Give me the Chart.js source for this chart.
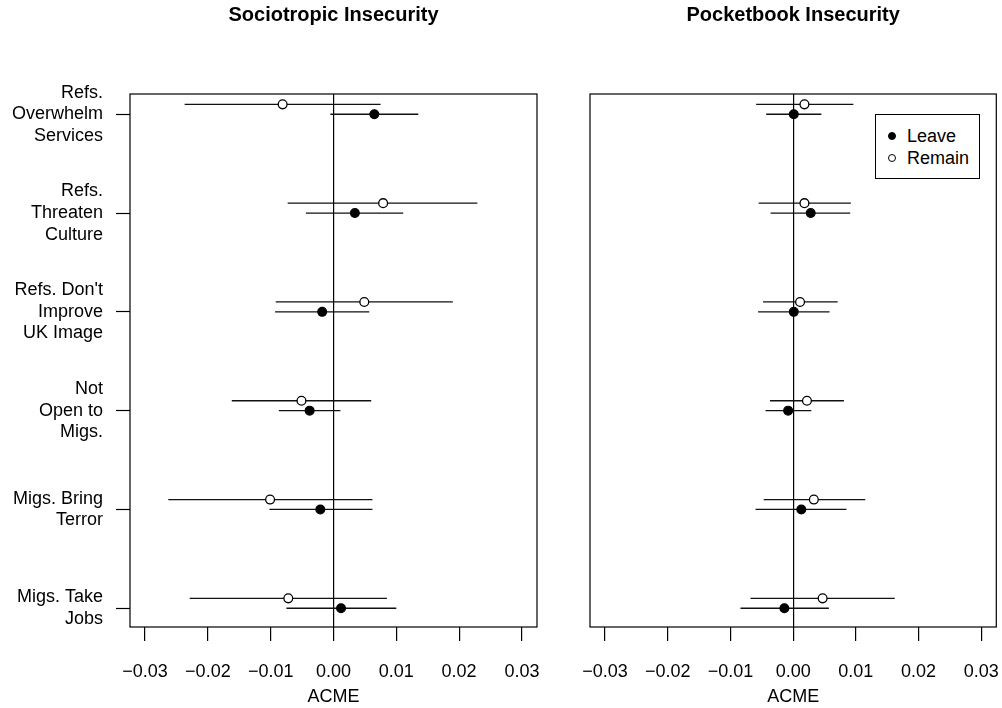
<!DOCTYPE html>
<html>
<head>
<meta charset="utf-8">
<script src="https://cdn.jsdelivr.net/npm/chart.js@4.4.1/dist/chart.umd.min.js"></script>
<style>
  html, body { margin: 0; padding: 0; background: #fff; }
  #wrap { position: relative; width: 1002px; height: 708px; overflow: hidden; font-family: "Liberation Sans", Arial, Helvetica, sans-serif; }
  #p1 { position: absolute; left: 0; top: 0; width: 545px; height: 708px; }
  #p2 { position: absolute; left: 545px; top: 0; width: 457px; height: 708px; }
  #legend { position: absolute; left: 875px; top: 114px; width: 103px; height: 63px; border: 1px solid #000; background: #fff; font-size: 18px; color: #000; }
  .lrow { position: absolute; left: 0; height: 22px; line-height: 22px; white-space: nowrap; }
  .dot { position: absolute; left: 12px; top: 7px; width: 8px; height: 8px; border-radius: 50%; box-sizing: border-box; border: 1.2px solid #000; }
  .ltxt { position: absolute; left: 31px; top: 0; }
</style>
</head>
<body>
<div id="wrap">
  <div id="p1"><canvas id="c1" width="545" height="708"></canvas></div>
  <div id="p2"><canvas id="c2" width="457" height="708"></canvas></div>
  <div id="legend"></div>
</div>
<script>
// ---------- data ----------
const categories = [
  ["Refs.", "Overwhelm", "Services"],
  ["Refs.", "Threaten", "Culture"],
  ["Refs. Don't", "Improve", "UK Image"],
  ["Not", "Open to", "Migs."],
  ["Migs. Bring", "Terror"],
  ["Migs. Take", "Jobs"]
];
const rowPos = [1, 2, 3, 4, 5, 6];
const remainOffset = -0.1;
const xTicks = [-0.03, -0.02, -0.01, 0, 0.01, 0.02, 0.03];
const panelTitles = ["Sociotropic Insecurity", "Pocketbook Insecurity"];
const seriesNames = ["Leave", "Remain"];
const xTitle = "ACME";

// Sociotropic
const socioLeaveEst  = [0.0065, 0.0034, -0.0018, -0.0038, -0.0021, 0.0012];
const socioLeaveLo   = [-0.0005, -0.0044, -0.0093, -0.0087, -0.0102, -0.0075];
const socioLeaveHi   = [0.0135, 0.0111, 0.0057, 0.0011, 0.0062, 0.0100];
const socioRemainEst = [-0.0081, 0.0079, 0.0049, -0.0051, -0.0101, -0.0072];
const socioRemainLo  = [-0.0237, -0.0073, -0.0092, -0.0162, -0.0263, -0.0229];
const socioRemainHi  = [0.0075, 0.0229, 0.0190, 0.0060, 0.0062, 0.0085];

// Pocketbook
const pocketLeaveEst  = [0.0001, 0.0028, 0.0001, -0.0008, 0.0013, -0.0014];
const pocketLeaveLo   = [-0.0043, -0.0036, -0.0056, -0.0044, -0.0060, -0.0084];
const pocketLeaveHi   = [0.0045, 0.0091, 0.0058, 0.0029, 0.0085, 0.0057];
const pocketRemainEst = [0.0018, 0.0018, 0.0011, 0.0022, 0.0033, 0.0047];
const pocketRemainLo  = [-0.0059, -0.0055, -0.0048, -0.0037, -0.0047, -0.0068];
const pocketRemainHi  = [0.0096, 0.0092, 0.0071, 0.0081, 0.0115, 0.0162];

// ---------- setup ----------
const FONT = '"Liberation Sans", Arial, Helvetica, sans-serif';
Chart.defaults.font.family = FONT;
Chart.defaults.color = '#000';

const X_MIN = -0.0324, X_MAX = 0.0324;
const Y_MIN = 0.795, Y_MAX = 6.19;

function fmt(v) {
  if (Math.abs(v) < 1e-12) return "0.00";
  return (v < 0 ? "\u2212" : "") + Math.abs(v).toFixed(2);
}

function ciData(lo, hi, offset) {
  const out = [];
  lo.forEach((l, i) => {
    out.push({ x: l, y: rowPos[i] + offset });
    out.push({ x: hi[i], y: rowPos[i] + offset });
    out.push({ x: null, y: null });
  });
  return out;
}
function ptData(est, offset) {
  return est.map((v, i) => ({ x: v, y: rowPos[i] + offset }));
}

const boxPlugin = {
  id: 'box',
  afterDraw(chart) {
    const a = chart.chartArea, c = chart.ctx;
    c.save();
    c.strokeStyle = '#000';
    c.lineWidth = 1.2;
    c.strokeRect(a.left, a.top, a.right - a.left, a.bottom - a.top);
    c.restore();
  }
};

function makeChart(canvasId, title, lEst, lLo, lHi, rEst, rLo, rHi, showY, pad) {
  return new Chart(document.getElementById(canvasId), {
    type: 'scatter',
    data: {
      datasets: [
        { label: seriesNames[0], data: ptData(lEst, 0), pointRadius: 4.4, pointHoverRadius: 4.4,
          backgroundColor: '#000', borderColor: '#000', borderWidth: 1.2, order: 0 },
        { label: seriesNames[1], data: ptData(rEst, remainOffset), pointRadius: 4.4, pointHoverRadius: 4.4,
          backgroundColor: '#fff', borderColor: '#000', borderWidth: 1.3, order: 0 },
        { label: seriesNames[0] + ' CI', data: ciData(lLo, lHi, 0), showLine: true, pointRadius: 0,
          borderColor: '#111', borderWidth: 1.3, spanGaps: false, order: 1 },
        { label: seriesNames[1] + ' CI', data: ciData(rLo, rHi, remainOffset), showLine: true, pointRadius: 0,
          borderColor: '#111', borderWidth: 1.3, spanGaps: false, order: 1 }
      ]
    },
    options: {
      responsive: false,
      animation: false,
      layout: { padding: pad },
      plugins: {
        legend: { display: false },
        tooltip: { enabled: false },
        title: {
          display: true, text: title, fullSize: false, color: '#000',
          font: { family: FONT, size: 20, weight: 'bold', lineHeight: 1.2 },
          padding: { top: 3, bottom: 67 }
        }
      },
      scales: {
        x: {
          type: 'linear', min: X_MIN, max: X_MAX,
          afterBuildTicks: s => { s.ticks = xTicks.map(v => ({ value: v })); },
          afterFit: s => { s.height = 81; s.paddingLeft = 0; s.paddingRight = 0; },
          ticks: { callback: v => fmt(v), font: { size: 18, lineHeight: 1.2 }, color: '#000', padding: 20, maxRotation: 0, autoSkip: false },
          grid: {
            display: true, drawOnChartArea: true, drawTicks: true,
            color: ctx => (ctx.tick && Math.abs(ctx.tick.value) < 1e-12) ? '#000' : 'rgba(0,0,0,0)',
            lineWidth: 1.2, tickColor: '#000', tickWidth: 1.2, tickLength: 14
          },
          border: { display: false },
          title: { display: true, text: xTitle, font: { size: 18, lineHeight: 1.2 }, color: '#000', padding: { top: 0, bottom: 0 } }
        },
        y: {
          type: 'linear', reverse: true, min: Y_MIN, max: Y_MAX,
          display: showY,
          afterBuildTicks: s => { s.ticks = rowPos.map(v => ({ value: v })); },
          afterFit: s => { s.width = showY ? 130 : 0; s.paddingTop = 0; s.paddingBottom = 0; },
          ticks: { callback: (v) => { const i = rowPos.indexOf(v); return i >= 0 ? categories[i] : ''; },
                   font: { size: 18, lineHeight: 1.2 }, color: '#000', padding: 13, autoSkip: false },
          grid: { display: true, drawOnChartArea: false, drawTicks: true, color: 'rgba(0,0,0,0)',
                  tickColor: '#000', tickWidth: 1.2, tickLength: 14 },
          border: { display: false }
        }
      }
    },
    plugins: [boxPlugin]
  });
}

makeChart('c1', panelTitles[0], socioLeaveEst, socioLeaveLo, socioLeaveHi,
          socioRemainEst, socioRemainLo, socioRemainHi, true, { left: 0, right: 8, top: 0, bottom: 0 });
makeChart('c2', panelTitles[1], pocketLeaveEst, pocketLeaveLo, pocketLeaveHi,
          pocketRemainEst, pocketRemainLo, pocketRemainHi, false, { left: 45, right: 5, top: 0, bottom: 0 });

// legend (HTML, real text)
const legendEl = document.getElementById('legend');
const legendFill = ['#000', '#fff'];
seriesNames.forEach((name, i) => {
  const row = document.createElement('div');
  row.className = 'lrow';
  row.style.top = (10 + i * 21.5) + 'px';
  const dot = document.createElement('span');
  dot.className = 'dot';
  dot.style.background = legendFill[i];
  const t = document.createElement('span');
  t.className = 'ltxt';
  t.textContent = name;
  row.appendChild(dot); row.appendChild(t);
  legendEl.appendChild(row);
});
</script>
</body>
</html>
